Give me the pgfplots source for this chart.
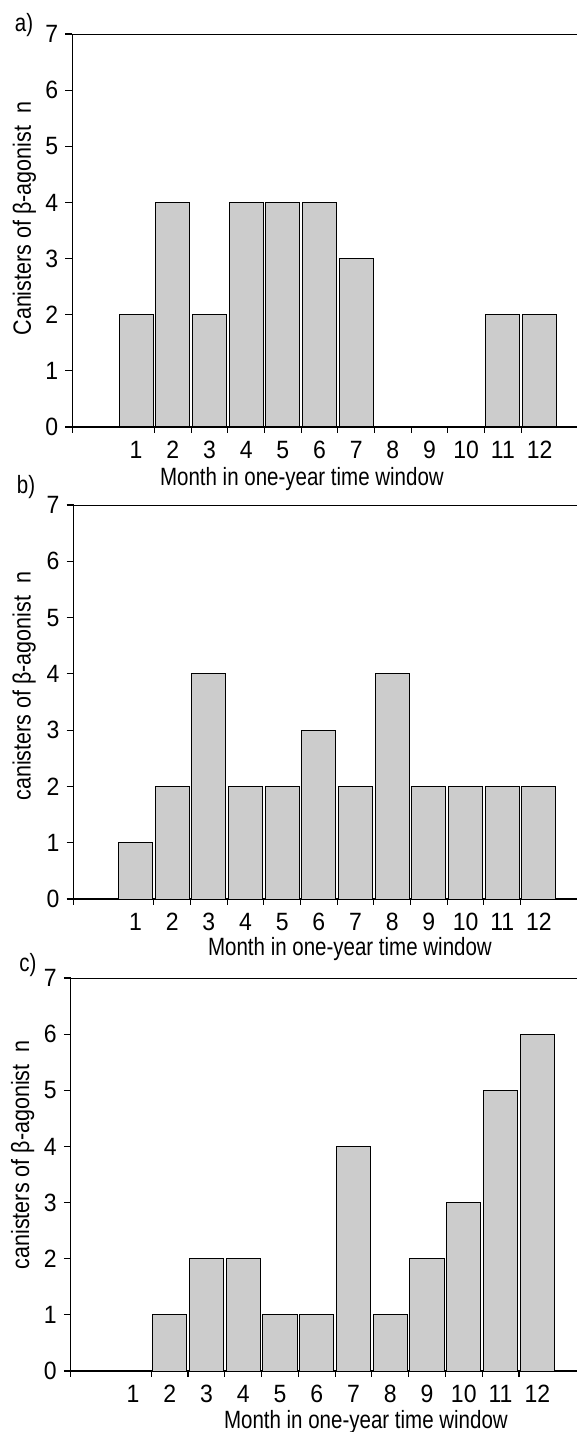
\documentclass[border=0pt]{standalone}
\usepackage{fontspec}
\setmainfont{Liberation Sans}[FakeStretch=0.82]
\newfontfamily\tickfamily{Liberation Sans}[FakeStretch=0.92]
\newfontfamily\ylabfamily{Liberation Sans}[FakeStretch=0.86]
\usepackage{pgfplots}
\pgfplotsset{compat=1.18}
\definecolor{barfill}{HTML}{CCCCCC}
\newcommand{\figfont}{\fontsize{12.5pt}{15pt}\selectfont}
\newcommand{\tickfont}{\tickfamily\fontsize{12.5pt}{15pt}\selectfont}
\newcommand{\ylabfont}{\ylabfamily\fontsize{12.5pt}{15pt}\selectfont}

\pgfplotsset{
  panel/.style={
    anchor=north west,
    scale only axis,
    ymin=0, ymax=7,
    ytick={0,...,7},
    xtick={1,...,12},
    minor xtick={#1,1.5,2.5,3.5,4.5,5.5,6.5,7.5,8.5,9.5,10.5,11.5},
    xmin=#1,
    axis x line=bottom, axis y line=left,
    axis line style={-, line width=0.6pt},
    tick align=outside,
    major tick length=3.5pt, minor tick length=2.8pt,
    every major x tick/.append style={draw=none},
    every tick/.append style={line width=0.6pt, black},
    /pgf/number format/assume math mode=true,
    tick label style={font=\tickfont},
    xlabel={Month in one-year time window},
  },
  % empty months (value 0) get no bar outline
  bars/.style={ybar, bar width=0.93, fill=barfill, draw=black, line width=0.5pt,
    unbounded coords=discard, y filter/.expression={y==0 ? nan : y}},
}

\begin{document}
\begin{tikzpicture}[font=\figfont]
\useasboundingbox (0,0) rectangle (288.5pt,-716pt);

% a)
\begin{axis}[panel=-0.74, at={(36.15pt,-17pt)}, width=252.35pt, height=196.5pt, xmax=13.02,
  ylabel={Canisters of β-agonist~~n},
  every axis y label/.style={at={(axis description cs:-0.095,0.53)}, rotate=90, anchor=center, font=\ylabfont},
  every axis x label/.style={at={(axis description cs:0.455,0)}, anchor=center, yshift=-26pt, font=\figfont}]
\addplot[bars] coordinates {(1,2) (2,4) (3,2) (4,4) (5,4) (6,4) (7,3) (8,0) (9,0) (10,0) (11,2) (12,2)};
\draw[line width=0.6pt] (rel axis cs:0,1) -- (rel axis cs:1,1);
\end{axis}
\node[font=\figfont] at (12pt,-12.5pt) {a)};

% b)
\begin{axis}[panel=-0.69, at={(36.8pt,-252.5pt)}, width=251.7pt, height=197pt, xmax=13.04,
  ylabel={canisters of β-agonist~~n},
  every axis y label/.style={at={(axis description cs:-0.098,0.54)}, rotate=90, anchor=center, font=\ylabfont},
  every axis x label/.style={at={(axis description cs:0.549,0)}, anchor=center, yshift=-25pt, font=\figfont}]
\addplot[bars] coordinates {(1,1) (2,2) (3,4) (4,2) (5,2) (6,3) (7,2) (8,4) (9,2) (10,2) (11,2) (12,2)};
\draw[line width=0.6pt] (rel axis cs:0,1) -- (rel axis cs:1,1);
\end{axis}
\node[font=\figfont] at (13pt,-243.5pt) {b)};

% c)
\begin{axis}[panel=-0.69, at={(35.4pt,-489pt)}, width=253.1pt, height=196.5pt, xmax=13.08,
  ylabel={canisters of β-agonist~~n},
  every axis y label/.style={at={(axis description cs:-0.095,0.55)}, rotate=90, anchor=center, font=\ylabfont},
  every axis x label/.style={at={(axis description cs:0.583,0)}, anchor=center, yshift=-25.5pt, font=\figfont}]
\addplot[bars] coordinates {(1,0) (2,1) (3,2) (4,2) (5,1) (6,1) (7,4) (8,1) (9,2) (10,3) (11,5) (12,6)};
\draw[line width=0.6pt] (rel axis cs:0,1) -- (rel axis cs:1,1);
\end{axis}
\node[font=\figfont] at (14pt,-482.5pt) {c)};
\end{tikzpicture}
\end{document}
